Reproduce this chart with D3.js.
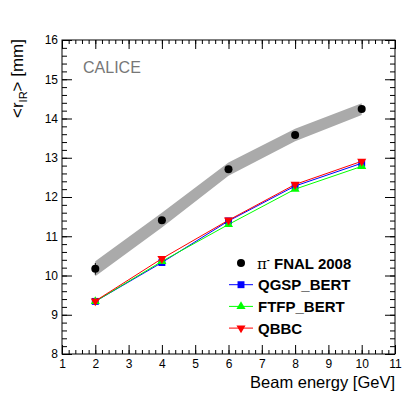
<!DOCTYPE html>
<html>
<head>
<meta charset="utf-8">
<script src="https://cdn.jsdelivr.net/npm/d3@7"></script>
<style>
  body { margin: 0; background: #fff; }
  svg { font-family: "Liberation Sans", Arial, sans-serif; }
</style>
</head>
<body>
<script>
// beam energies [GeV]
let energies = [2, 4, 6, 8, 10];
let dataVals = [10.17, 11.41, 12.71, 13.58, 14.24];
let dataErr = [0.15, 0.05, 0.05, 0.05, 0.05];
let bandHalf = [0.19, 0.19, 0.17, 0.16, 0.15];
let qgspVals = [9.34, 10.33, 11.39, 12.28, 12.86];
let ftfpVals = [9.34, 10.36, 11.30, 12.20, 12.78];
let qbbcVals = [9.35, 10.43, 11.41, 12.32, 12.91];
let xTicks = [1, 2, 3, 4, 5, 6, 7, 8, 9, 10, 11];
let yTicks = [8, 9, 10, 11, 12, 13, 14, 15, 16];

let W = 415, H = 395;
let pLeft = 62, pRight = 395, pTop = 40, pBottom = 354;

let svg = d3.select('body').append('svg').attr('width', W).attr('height', H);

let x = d3.scaleLinear().domain([1, 11]).range([pLeft, pRight]);
let y = d3.scaleLinear().domain([8, 16]).range([pBottom, pTop]);

// minor ticks
let xMinor = d3.range(1, 11.001, 0.2);
let yMinor = d3.range(8, 16.001, 0.2);

function axisStyle(g) {
  g.select('.domain').remove();
  g.selectAll('line').attr('stroke', '#000').attr('stroke-width', 1);
  g.selectAll('text').attr('font-size', '12px').attr('fill', '#000');
}

// bottom
svg.append('g').attr('transform', `translate(0,${pBottom})`)
  .call(d3.axisTop(x).tickValues(xMinor).tickSize(4).tickFormat(''))
  .call(axisStyle);
svg.append('g').attr('transform', `translate(0,${pBottom})`)
  .call(d3.axisTop(x).tickValues(xTicks).tickSize(9).tickFormat(''))
  .call(axisStyle);
svg.append('g').attr('transform', `translate(0,${pBottom})`)
  .call(d3.axisBottom(x).tickValues(xTicks).tickSize(0).tickPadding(5).tickFormat(d3.format('d')))
  .call(axisStyle);
// top
svg.append('g').attr('transform', `translate(0,${pTop})`)
  .call(d3.axisBottom(x).tickValues(xMinor).tickSize(4).tickFormat(''))
  .call(axisStyle);
svg.append('g').attr('transform', `translate(0,${pTop})`)
  .call(d3.axisBottom(x).tickValues(xTicks).tickSize(9).tickFormat(''))
  .call(axisStyle);
// left
svg.append('g').attr('transform', `translate(${pLeft},0)`)
  .call(d3.axisRight(y).tickValues(yMinor).tickSize(5).tickFormat(''))
  .call(axisStyle);
svg.append('g').attr('transform', `translate(${pLeft},0)`)
  .call(d3.axisRight(y).tickValues(yTicks).tickSize(10).tickFormat(''))
  .call(axisStyle);
svg.append('g').attr('transform', `translate(${pLeft},0)`)
  .call(d3.axisLeft(y).tickValues(yTicks).tickSize(0).tickPadding(4).tickFormat(d3.format('d')))
  .call(axisStyle);
// right
svg.append('g').attr('transform', `translate(${pRight},0)`)
  .call(d3.axisLeft(y).tickValues(yMinor).tickSize(5).tickFormat(''))
  .call(axisStyle);
svg.append('g').attr('transform', `translate(${pRight},0)`)
  .call(d3.axisLeft(y).tickValues(yTicks).tickSize(10).tickFormat(''))
  .call(axisStyle);

svg.append('rect').attr('x', pLeft).attr('y', pTop)
  .attr('width', pRight - pLeft).attr('height', pBottom - pTop)
  .attr('fill', 'none').attr('stroke', '#000').attr('stroke-width', 1);

// systematic band
let bandData = energies.map((e, i) => ({e: e, lo: dataVals[i] - bandHalf[i], hi: dataVals[i] + bandHalf[i]}));
svg.append('path').datum(bandData)
  .attr('d', d3.area().x(d => x(d.e)).y0(d => y(d.lo)).y1(d => y(d.hi)))
  .attr('fill', '#aaaaaa');

// simulations
let sims = [
  {name: 'QGSP_BERT', vals: qgspVals, color: '#0000ff', shape: d3.symbolSquare, size: 48, rot: 0},
  {name: 'FTFP_BERT', vals: ftfpVals, color: '#00ff00', shape: d3.symbolTriangle, size: 36, rot: 0},
  {name: 'QBBC', vals: qbbcVals, color: '#ff0000', shape: d3.symbolTriangle, size: 36, rot: 180}
];
let line = d3.line().x(d => x(d[0])).y(d => y(d[1]));
sims.forEach(s => {
  let pts = energies.map((e, i) => [e, s.vals[i]]);
  svg.append('path').datum(pts).attr('d', line)
    .attr('fill', 'none').attr('stroke', s.color).attr('stroke-width', 1);
  svg.selectAll(null).data(pts).enter().append('path')
    .attr('d', d3.symbol().type(s.shape).size(s.size))
    .attr('transform', d => `translate(${x(d[0])},${y(d[1])}) rotate(${s.rot})`)
    .attr('fill', s.color);
});

// data points
let dataPts = energies.map((e, i) => ({e: e, v: dataVals[i], err: dataErr[i]}));
svg.selectAll(null).data(dataPts).enter().append('line')
  .attr('x1', d => x(d.e)).attr('x2', d => x(d.e))
  .attr('y1', d => y(d.v - d.err)).attr('y2', d => y(d.v + d.err))
  .attr('stroke', '#000').attr('stroke-width', 1);
svg.selectAll(null).data(dataPts).enter().append('circle')
  .attr('cx', d => x(d.e)).attr('cy', d => y(d.v)).attr('r', 4)
  .attr('fill', '#000');

// legend
let legX = 241, legY0 = 263, legDy = 21.7;
svg.append('circle').attr('cx', legX).attr('cy', legY0).attr('r', 4).attr('fill', '#000');
let l0 = svg.append('text').attr('x', 257).attr('y', legY0 + 5.5)
  .attr('font-size', '15px').attr('font-weight', 'bold');
l0.append('tspan').attr('font-family', 'DejaVu Serif, serif').attr('font-weight', 'normal').text('π');
l0.append('tspan').attr('dy', -6).attr('font-size', '9px').text('-');
l0.append('tspan').attr('dy', 6).text(' FNAL 2008');
sims.forEach((s, i) => {
  let ly = legY0 + legDy * (i + 1);
  svg.append('line').attr('x1', 229).attr('x2', 253).attr('y1', ly).attr('y2', ly)
    .attr('stroke', s.color).attr('stroke-width', 1);
  svg.append('path').attr('d', d3.symbol().type(s.shape).size(s.size))
    .attr('transform', `translate(${legX},${ly}) rotate(${s.rot})`).attr('fill', s.color);
  svg.append('text').attr('x', 258).attr('y', ly + 5.5)
    .attr('font-size', '15px').attr('font-weight', 'bold').text(s.name);
});

// CALICE label
svg.append('text').attr('x', 83).attr('y', 73).attr('font-size', '16px')
  .attr('fill', '#777777').text('CALICE');

// axis titles
svg.append('text').attr('x', pRight).attr('y', 388).attr('text-anchor', 'end')
  .attr('font-size', '16.5px').text('Beam energy [GeV]');
let yt = svg.append('text').attr('transform', `translate(23,${pTop - 1}) rotate(-90)`)
  .attr('text-anchor', 'end').attr('font-size', '17px');
yt.append('tspan').text('<r');
yt.append('tspan').attr('dy', 4).attr('font-size', '11px').text('IR');
yt.append('tspan').attr('dy', -4).text('> [mm]');
</script>
</body>
</html>
